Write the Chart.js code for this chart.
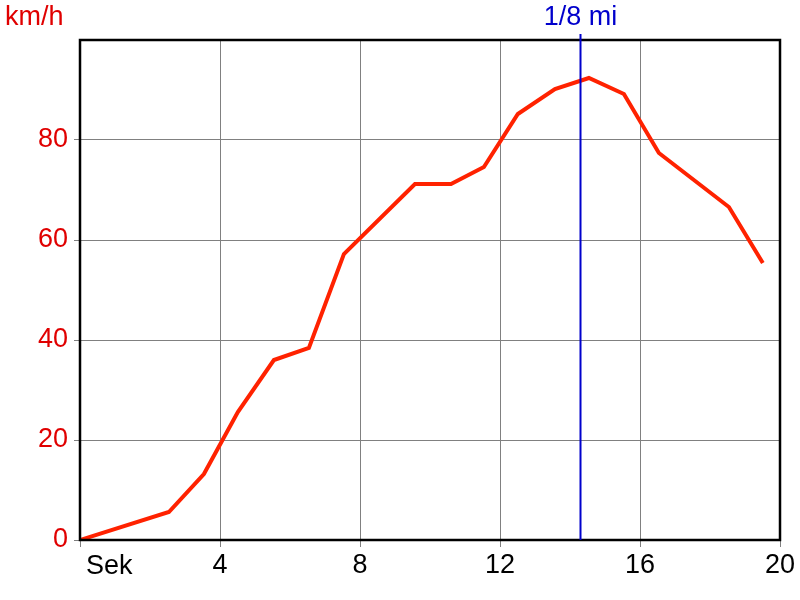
<!DOCTYPE html>
<html>
<head>
<meta charset="utf-8">
<script src="https://cdn.jsdelivr.net/npm/chart.js@4"></script>
<style>
  html, body { margin: 0; padding: 0; background: #fff; }
  #wrap { width: 800px; height: 600px; }
</style>
</head>
<body>
<div id="wrap"><canvas id="chart" width="800" height="600"></canvas></div>
<script>
// seconds vs km/h
const seconds = [0, 2.54, 3.54, 4.51, 5.54, 6.54, 7.54, 9.57, 10.6, 11.54, 12.51, 13.57, 14.54, 15.54, 16.54, 18.54, 19.51];
const speed   = [0, 5.6, 13.2, 25.6, 36, 38.4, 57.2, 71.2, 71.2, 74.6, 85.2, 90.2, 92.4, 89.2, 77.4, 66.6, 55.4];
const xTicks = [0, 4, 8, 12, 16, 20];
const yTicks = [0, 20, 40, 60, 80];
const markerSec = 14.29;
const markerLabel = '1/8 mi';
const FONT = '"Liberation Sans", Arial, sans-serif';
const FS = 27;

const overlay = {
  id: 'overlay',
  afterDatasetsDraw(chart) {
    const { ctx, chartArea: a, scales } = chart;
    ctx.save();
    // frame
    ctx.strokeStyle = '#000';
    ctx.lineWidth = 2.5;
    ctx.strokeRect(a.left, a.top, a.right - a.left, a.bottom - a.top);
    // marker line
    const mx = Math.round(scales.x.getPixelForValue(markerSec)) + 0.5;
    ctx.strokeStyle = '#0000cc';
    ctx.lineWidth = 2;
    ctx.beginPath();
    ctx.moveTo(mx, a.top - 6);
    ctx.lineTo(mx, a.bottom);
    ctx.stroke();
    ctx.font = FS + 'px ' + FONT;
    ctx.textBaseline = 'middle';
    ctx.fillStyle = '#0000cc';
    ctx.textAlign = 'center';
    ctx.fillText(markerLabel, mx, 18);
    ctx.fillStyle = '#e00000';
    ctx.textAlign = 'left';
    ctx.fillText('km/h', 5, 18);
    ctx.fillStyle = '#000';
    ctx.fillText('Sek', a.left + 6, a.bottom + 27);
    ctx.restore();
  }
};

new Chart(document.getElementById('chart'), {
  type: 'scatter',
  data: {
    datasets: [{
      data: seconds.map((s, i) => ({ x: s, y: speed[i] })),
      showLine: true,
      borderColor: '#ff2200',
      borderWidth: 4,
      pointRadius: 0,
      tension: 0
    }]
  },
  options: {
    responsive: false,
    animation: false,
    layout: { padding: { top: 40, right: 20, left: 0, bottom: 0 } },
    plugins: { legend: { display: false }, tooltip: { enabled: false } },
    scales: {
      x: {
        type: 'linear',
        min: 0, max: 20,
        afterBuildTicks: s => { s.ticks = xTicks.map(v => ({ value: v })); },
        afterFit: s => { s.height = 60; },
        grid: { color: '#808080', lineWidth: 1, tickLength: 7, drawOnChartArea: true },
        border: { display: false },
        ticks: {
          color: '#000',
          font: { family: FONT, size: FS },
          padding: 2,
          maxRotation: 0,
          callback: v => v === 0 ? '' : String(v)
        }
      },
      y: {
        type: 'linear',
        min: 0, max: 100,
        afterBuildTicks: s => { s.ticks = yTicks.map(v => ({ value: v })); },
        afterFit: s => { s.width = 80; },
        grid: { color: '#808080', lineWidth: 1, tickLength: 6 },
        border: { display: false },
        ticks: {
          color: '#e00000',
          font: { family: FONT, size: FS },
          padding: 6,
          callback: v => String(v)
        }
      }
    }
  },
  plugins: [overlay]
});
</script>
</body>
</html>
